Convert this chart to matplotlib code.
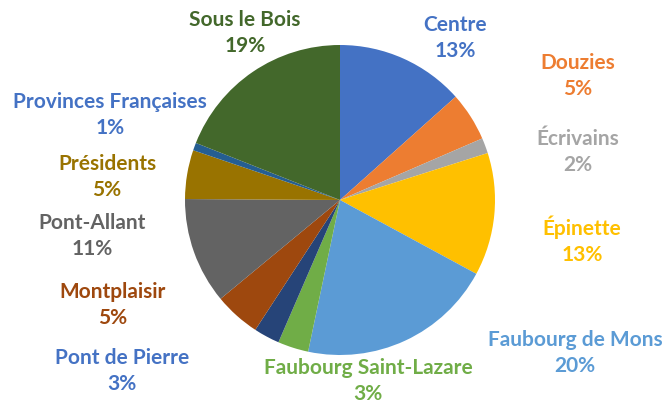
import matplotlib.pyplot as plt

# data
quartiers = ["Centre", "Douzies", "Écrivains", "Épinette", "Faubourg de Mons",
             "Faubourg Saint-Lazare", "Pont de Pierre", "Montplaisir", "Pont-Allant",
             "Présidents", "Provinces Françaises", "Sous le Bois"]
parts = [13.4, 5.1, 1.6, 12.8, 20.4, 3.2, 2.7, 4.8, 11.1, 5.1, 0.8, 19.0]

# style
slice_colors = ["#4472C4", "#ED7D31", "#A5A5A5", "#FFC000", "#5B9BD5", "#70AD47",
                "#264478", "#9E480E", "#636363", "#997300", "#255E91", "#43682B"]
label_colors = ["#4472C4", "#ED7D31", "#A5A5A5", "#FFC000", "#5B9BD5", "#70AD47",
                "#4472C4", "#9E480E", "#636363", "#997300", "#4472C4", "#43682B"]
# label centres in pixels (x, y from top)
label_pos = [(455, 38), (578, 76), (578, 152), (582, 240), (575, 353), (368, 381),
             (122, 371), (113, 305), (92, 236), (107, 177), (110, 115), (245, 33)]

W, H = 668, 403
fig = plt.figure(figsize=(W / 100, H / 100), dpi=100)
ax = fig.add_axes([0, 0, 1, 1])

ax.pie(parts, colors=slice_colors, startangle=90, counterclock=False,
       center=(340, H - 200), radius=155, frame=True,
       wedgeprops=dict(linewidth=0))
ax.set_xlim(0, W)
ax.set_ylim(0, H)
ax.set_aspect("equal")
ax.axis("off")

for name, val, col, (x, y) in zip(quartiers, parts, label_colors, label_pos):
    ax.text(x, H - y, f"{name}\n{round(val):.0f}%", color=col, ha="center", va="center",
            fontsize=15, fontweight="bold", family="Lato", linespacing=1.35)

fig.savefig("out.png", dpi=100)
